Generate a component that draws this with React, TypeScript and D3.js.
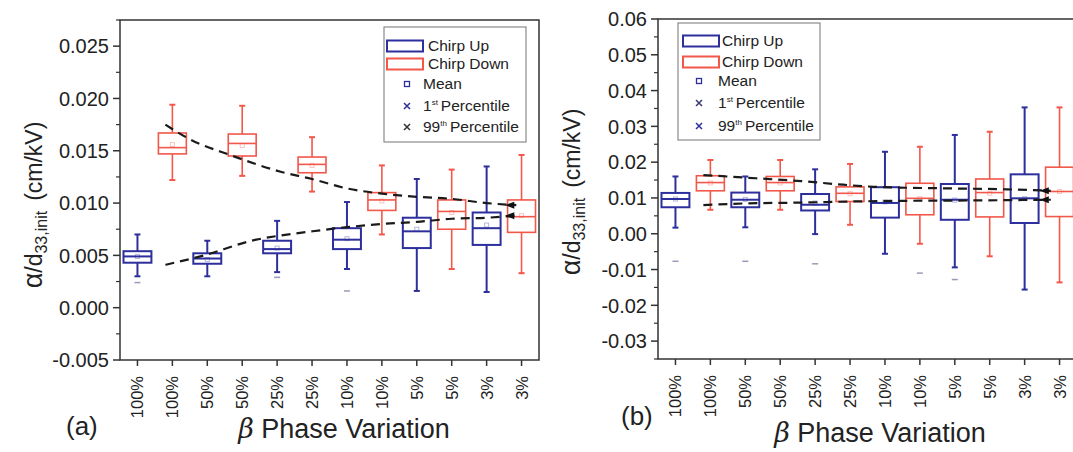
import React from "react";
import * as d3 from "d3";

// ---------- DATA ----------
const categories = ["100%", "100%", "50%", "50%", "25%", "25%", "10%", "10%", "5%", "5%", "3%", "3%"];
// even index = Chirp Up, odd index = Chirp Down
const seriesOf = ["up", "down", "up", "down", "up", "down", "up", "down", "up", "down", "up", "down"];

// Panel (a)
const aHigh = [0.0070, 0.0194, 0.0064, 0.0193, 0.0083, 0.0163, 0.0101, 0.0136, 0.0123, 0.0132, 0.0135, 0.0146];
const aQ3 = [0.0054, 0.0167, 0.0052, 0.0166, 0.0064, 0.0144, 0.0076, 0.0110, 0.0086, 0.0103, 0.0091, 0.0103];
const aMedian = [0.0049, 0.0153, 0.0047, 0.0157, 0.0056, 0.0137, 0.0065, 0.0103, 0.0073, 0.0092, 0.0076, 0.0087];
const aQ1 = [0.0043, 0.0147, 0.0042, 0.0145, 0.0052, 0.0129, 0.0056, 0.0093, 0.0057, 0.0075, 0.0060, 0.0072];
const aLow = [0.0030, 0.0122, 0.0030, 0.0126, 0.0034, 0.0111, 0.0037, 0.0070, 0.0016, 0.0037, 0.0015, 0.0033];
const aMean = [0.0049, 0.0156, 0.0046, 0.0155, 0.0057, 0.0136, 0.0066, 0.0102, 0.0075, 0.0091, 0.0079, 0.0088];
const aP1: (number | null)[] = [0.0024, null, null, null, 0.0029, null, 0.0016, null, null, null, null, null];
// dashed trend curves: [category position, value]
const aTrendDown: [number, number][] = [[0.8, 0.0175], [1.5, 0.0161], [2.65, 0.0146], [4.1, 0.0130], [5, 0.0123], [6, 0.0114], [7, 0.0109], [8, 0.0106], [9, 0.0104], [10, 0.0100], [10.85, 0.0098]];
const aTrendUp: [number, number][] = [[0.8, 0.0041], [1.8, 0.0049], [3.4, 0.0065], [4.1, 0.0069], [5, 0.0073], [6, 0.0077], [7, 0.0080], [8, 0.0082], [9, 0.0085], [10, 0.0086], [10.85, 0.0088]];

// Panel (b)
const bHigh = [0.0160, 0.0206, 0.0160, 0.0206, 0.0180, 0.0195, 0.0229, 0.0243, 0.0276, 0.0285, 0.0353, 0.0353];
const bQ3 = [0.0114, 0.0162, 0.0115, 0.0160, 0.0111, 0.0131, 0.0130, 0.0141, 0.0139, 0.0153, 0.0166, 0.0186];
const bMedian = [0.0097, 0.0143, 0.0095, 0.0143, 0.0081, 0.0113, 0.0086, 0.0099, 0.0095, 0.0115, 0.0099, 0.0118];
const bQ1 = [0.0074, 0.0120, 0.0074, 0.0120, 0.0065, 0.0090, 0.0045, 0.0053, 0.0039, 0.0047, 0.0030, 0.0048];
const bLow = [0.0017, 0.0067, 0.0018, 0.0067, -0.0001, 0.0025, -0.0056, -0.0028, -0.0094, -0.0063, -0.0156, -0.0136];
const bMean = [0.0097, 0.0142, 0.0096, 0.0142, 0.0086, 0.0112, 0.0089, 0.0098, 0.0094, 0.0113, 0.0098, 0.0118];
const bP1: (number | null)[] = [-0.0077, null, -0.0077, null, -0.0084, null, null, -0.0110, -0.0128, null, null, null];
const bTrendDown: [number, number][] = [[0.8, 0.0164], [2.3, 0.0155], [3.6, 0.0147], [4.8, 0.0137], [5.7, 0.0131], [7.6, 0.0127], [9.5, 0.0124], [10.75, 0.0120]];
const bTrendUp: [number, number][] = [[0.8, 0.0080], [2.1, 0.0085], [3.6, 0.0087], [5, 0.0090], [6.6, 0.0092], [8.5, 0.0093], [10.75, 0.0095]];

const aYTicks = [-0.005, 0.0, 0.005, 0.01, 0.015, 0.02, 0.025];
const bYTicks = [-0.03, -0.02, -0.01, 0.0, 0.01, 0.02, 0.03, 0.04, 0.05, 0.06];

const legendLabels = ["Chirp Up", "Chirp Down", "Mean"];

// ---------- STYLE ----------
const BLUE = "#2d2f9c";
const RED = "#f2574a";
const FONT = "'Liberation Sans', Arial, Helvetica, sans-serif";
const AXIS = "#333";

const loc = d3.formatLocale({ decimal: ".", thousands: ",", grouping: [3], currency: ["", ""], minus: "-" });

type PanelProps = {
  left: number; right: number; top: number; bottom: number;
  yDomain: [number, number];
  yTicks: number[]; minorStep: number; fmt: string;
  high: number[]; q3: number[]; median: number[]; q1: number[]; low: number[]; mean: number[]; p1: (number | null)[];
  trendDown: [number, number][]; trendUp: [number, number][];
  legend: { x: number; y: number; w: number; h: number; rows: number[]; swX: number; textX: number; markX: number; textX2: number; c1: string; c99: string };
  ylabel: { x: number; y: number };
  tag: { text: string; x: number; y: number };
  xtitle: { x: number; y: number };
};

function Panel(p: PanelProps) {
  const x = d3.scaleLinear().domain([-0.5, categories.length - 0.5]).range([p.left, p.right]);
  const y = d3.scaleLinear().domain(p.yDomain).range([p.bottom, p.top]);
  const f = loc.format(p.fmt);
  const minor = d3.range(p.yDomain[0], p.yDomain[1] + 1e-9, p.minorStep).filter(
    (v) => !p.yTicks.some((t) => Math.abs(t - v) < 1e-9)
  );
  const bw = x(1) - x(0);
  const boxW = bw * 0.8;
  const line = d3.line<[number, number]>().x((d) => x(d[0])).y((d) => y(d[1])).curve(d3.curveMonotoneX);
  const L = p.legend;
  return (
    <g fontFamily={FONT}>
      {/* boxes */}
      {categories.map((c, i) => {
        const col = seriesOf[i] === "up" ? BLUE : RED;
        const sw = seriesOf[i] === "up" ? 2 : 1.6;
        const cx = x(i);
        return (
          <g key={i}>
            <line x1={cx} x2={cx} y1={y(p.high[i])} y2={y(p.q3[i])} stroke={col} strokeWidth={sw} />
            <line x1={cx} x2={cx} y1={y(p.q1[i])} y2={y(p.low[i])} stroke={col} strokeWidth={sw} />
            <line x1={cx - 3} x2={cx + 3} y1={y(p.high[i])} y2={y(p.high[i])} stroke={col} strokeWidth={2} />
            <line x1={cx - 3} x2={cx + 3} y1={y(p.low[i])} y2={y(p.low[i])} stroke={col} strokeWidth={2} />
            <rect x={cx - boxW / 2} width={boxW} y={y(p.q3[i])} height={y(p.q1[i]) - y(p.q3[i])} fill="#fff" fillOpacity={0.6} stroke={col} strokeWidth={sw} />
            <line x1={cx - boxW / 2} x2={cx + boxW / 2} y1={y(p.median[i])} y2={y(p.median[i])} stroke={col} strokeWidth={sw} />
            <rect x={cx - 2} y={y(p.mean[i]) - 2} width={4} height={4} fill="none" stroke={col} strokeOpacity={0.35} strokeWidth={1} />
            {p.p1[i] !== null && (
              <line x1={cx - 3} x2={cx + 3} y1={y(p.p1[i] as number)} y2={y(p.p1[i] as number)} stroke="#9a9ab8" strokeWidth={1.5} />
            )}
          </g>
        );
      })}
      {/* dashed trends */}
      {[p.trendDown, p.trendUp].map((t, k) => {
        const last = t[t.length - 1];
        const ex = x(last[0]);
        const ey = y(last[1]);
        return (
          <g key={k}>
            <path d={line(t) || ""} fill="none" stroke="#1a1a1a" strokeWidth={2.2} strokeDasharray="9,6" />
            <path d={`M${ex - 11},${ey} L${ex - 2},${ey - 3.5} L${ex - 2},${ey + 3.5} Z`} fill="#111" />
          </g>
        );
      })}
      {/* frame */}
      <rect x={p.left} y={p.top} width={p.right - p.left} height={p.bottom - p.top} fill="none" stroke={AXIS} strokeWidth={1.5} />
      {/* y ticks */}
      {p.yTicks.map((t) => (
        <g key={t}>
          <line x1={p.left - 7} x2={p.left} y1={y(t)} y2={y(t)} stroke={AXIS} strokeWidth={1.5} />
          <text x={p.left - 11} y={y(t)} dy="0.36em" textAnchor="end" fontSize={20} fill="#222">{f(t)}</text>
        </g>
      ))}
      {minor.map((t) => (
        <line key={"m" + t} x1={p.left - 4} x2={p.left} y1={y(t)} y2={y(t)} stroke={AXIS} strokeWidth={1.2} />
      ))}
      {/* x ticks */}
      {categories.map((c, i) => (
        <g key={"x" + i}>
          <line x1={x(i)} x2={x(i)} y1={p.bottom} y2={p.bottom + 6} stroke={AXIS} strokeWidth={1.5} />
          <text transform={`translate(${x(i) + 6},${p.bottom + 16}) rotate(-90)`} textAnchor="end" fontSize={16.5} fill="#222">{c}</text>
        </g>
      ))}
      {/* y label */}
      <text transform={`translate(${p.ylabel.x},${p.ylabel.y}) rotate(-90)`} textAnchor="middle" fontSize={23} fill="#222">
        <tspan fontSize={27}>α</tspan>
        <tspan>/d</tspan>
        <tspan fontSize={16} dy={5}>33,init</tspan>
        <tspan dy={-5} dx={10}>(cm/kV)</tspan>
      </text>
      {/* x title */}
      <text x={p.xtitle.x} y={p.xtitle.y} textAnchor="middle" fontSize={27} fill="#222">
        <tspan fontStyle="italic" fontFamily="'DejaVu Serif', serif">β</tspan>
        <tspan> Phase Variation</tspan>
      </text>
      <text x={p.tag.x} y={p.tag.y} fontSize={26} fill="#222">{p.tag.text}</text>
      {/* legend */}
      <rect x={L.x} y={L.y} width={L.w} height={L.h} fill="#fff" stroke="#8a8a8a" strokeWidth={1.2} />
      <rect x={L.swX} y={L.rows[0] - 5.5} width={36} height={11} fill="#fff" stroke={BLUE} strokeWidth={2} />
      <rect x={L.swX} y={L.rows[1] - 5.5} width={36} height={11} fill="#fff" stroke={RED} strokeWidth={2} />
      <text x={L.textX} y={L.rows[0]} dy="0.35em" fontSize={15.5} fill="#222">{legendLabels[0]}</text>
      <text x={L.textX} y={L.rows[1]} dy="0.35em" fontSize={15.5} fill="#222">{legendLabels[1]}</text>
      <rect x={L.markX - 2.5} y={L.rows[2] - 2.5} width={5} height={5} fill="none" stroke={BLUE} strokeWidth={1.3} />
      <text x={L.textX2} y={L.rows[2]} dy="0.35em" fontSize={15.5} fill="#222">{legendLabels[2]}</text>
      <path d={`M${L.markX - 3},${L.rows[3] - 3}L${L.markX + 3},${L.rows[3] + 3}M${L.markX - 3},${L.rows[3] + 3}L${L.markX + 3},${L.rows[3] - 3}`} stroke={L.c1} strokeWidth={1.5} />
      <text x={L.textX2} y={L.rows[3]} dy="0.35em" fontSize={15.5} fill="#222">
        1<tspan fontSize={8} dy={-6}>st</tspan><tspan dy={6} dx={3}>Percentile</tspan>
      </text>
      <path d={`M${L.markX - 3},${L.rows[4] - 3}L${L.markX + 3},${L.rows[4] + 3}M${L.markX - 3},${L.rows[4] + 3}L${L.markX + 3},${L.rows[4] - 3}`} stroke={L.c99} strokeWidth={1.5} />
      <text x={L.textX2} y={L.rows[4]} dy="0.35em" fontSize={15.5} fill="#222">
        99<tspan fontSize={8} dy={-6}>th</tspan><tspan dy={6} dx={3}>Percentile</tspan>
      </text>
    </g>
  );
}

export default function App() {
  return (
    <svg width={1073} height={452} style={{ position: "absolute", left: 0, top: 0, background: "#fff" }}>
      <rect x={0} y={0} width={1073} height={452} fill="#fff" />
      <Panel
        left={120} right={539} top={20} bottom={360}
        yDomain={[-0.005, 0.0275]} yTicks={aYTicks} minorStep={0.0025} fmt=".3f"
        high={aHigh} q3={aQ3} median={aMedian} q1={aQ1} low={aLow} mean={aMean} p1={aP1}
        trendDown={aTrendDown} trendUp={aTrendUp}
        legend={{ x: 384, y: 27, w: 142, h: 115, rows: [46, 64, 84, 106, 127], swX: 387, textX: 428, markX: 407, textX2: 423, c1: BLUE, c99: "#333" }}
        ylabel={{ x: 42, y: 205 }}
        tag={{ text: "(a)", x: 66, y: 435 }}
        xtitle={{ x: 344, y: 438 }}
      />
      <Panel
        left={658} right={1077} top={19} bottom={359}
        yDomain={[-0.035, 0.06]} yTicks={bYTicks} minorStep={0.005} fmt=".2f"
        high={bHigh} q3={bQ3} median={bMedian} q1={bQ1} low={bLow} mean={bMean} p1={bP1}
        trendDown={bTrendDown} trendUp={bTrendUp}
        legend={{ x: 678, y: 23, w: 142, h: 117, rows: [41, 62, 81, 103, 126], swX: 683, textX: 722, markX: 699, textX2: 718, c1: "#3a3a7a", c99: BLUE }}
        ylabel={{ x: 580, y: 192 }}
        tag={{ text: "(b)", x: 621, y: 425 }}
        xtitle={{ x: 880, y: 442 }}
      />
    </svg>
  );
}
